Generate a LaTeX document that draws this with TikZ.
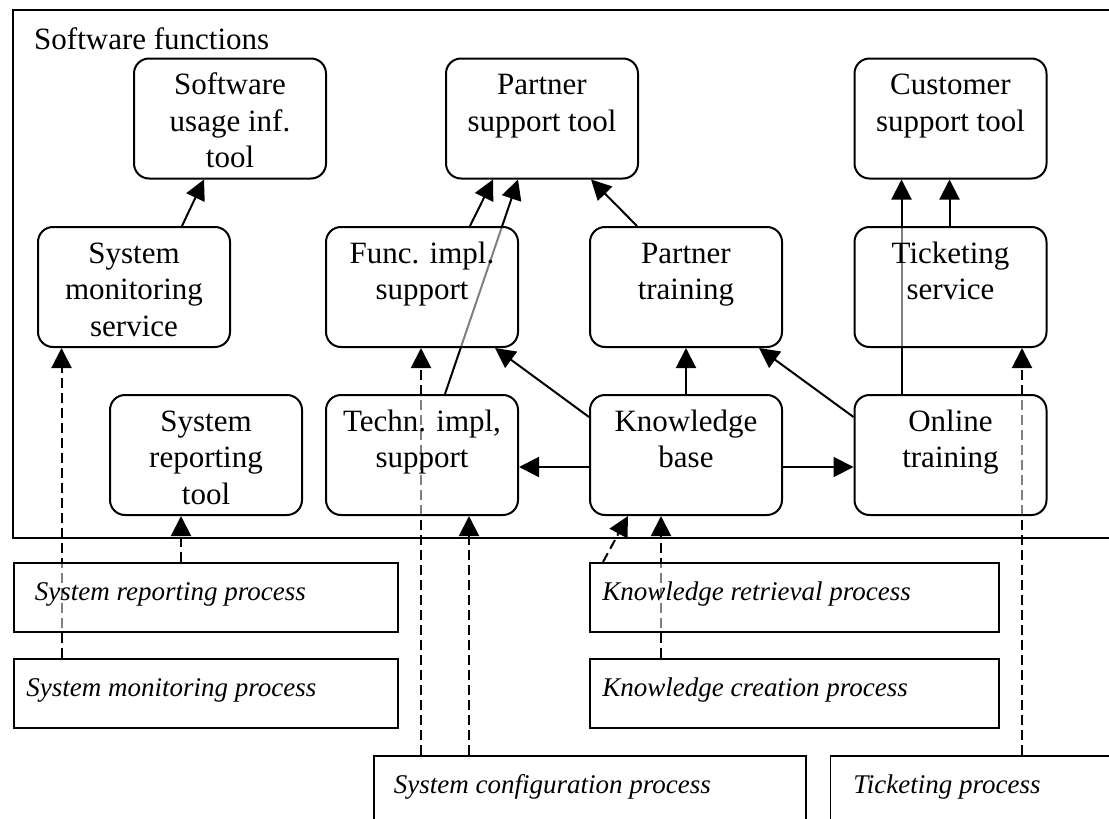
\documentclass[tikz,border=0pt]{standalone}
\usepackage{fontspec}
\setmainfont{Liberation Serif}
\usetikzlibrary{arrows.meta}
\pgfdeclarelayer{bg}
\pgfsetlayers{bg,main}

% text of a rounded function box: centred lines, first baseline 36pt below the top
\newcommand\fnlabel[1]{\parbox[t][120pt][t]{192pt}{\centering\rule{0pt}{36pt}#1\par}}
% text of a process box: one italic line, left inset #3
\newcommand\proclabel[4]{\parbox[t][#2][t]{#1}{\raggedright\hspace*{#3}\rule{0pt}{37.5pt}#4\par}}

\tikzset{
  fnbox/.style={draw, line width=2pt, rounded corners=15pt, fill=white,
    fill opacity=0.5, text opacity=1, inner sep=0pt, anchor=north west,
    font=\fontsize{31}{36.7}\selectfont},
  procbox/.style={draw, line width=1.6pt, fill=white, fill opacity=0.5,
    text opacity=1, inner sep=0pt, anchor=north west,
    font=\fontsize{27}{32}\selectfont\itshape},
  flow/.style={line width=2pt, -{Triangle[length=20pt 0 0,width=20pt 0 0]}},
  feed/.style={flow, dash pattern=on 10pt off 5pt},
}

\begin{document}
\begin{tikzpicture}[x=1pt,y=-1pt]
\clip (0,0) rectangle (1109,819);

% container of the software functions
\draw[line width=2pt] (1130,10) -- (13,10) -- (13,538) -- (1130,538);
\node[anchor=base west, inner sep=0pt, font=\fontsize{31}{36.7}\selectfont]
  (title) at (34,49.5) {Software functions};

% function boxes
\node[fnbox] (su)  at (133,57.5)   {\fnlabel{Software\\usage inf.\\tool}};
\node[fnbox] (ps)  at (445,57.5)   {\fnlabel{Partner\\support tool}};
\node[fnbox] (cs)  at (853.5,57.5) {\fnlabel{Customer\\support tool}};
\node[fnbox] (sms) at (37,226)     {\fnlabel{System\\monitoring\\service}};
\node[fnbox] (fis) at (325,226)    {\fnlabel{Func. impl.\\support}};
\node[fnbox] (pt)  at (589,226)    {\fnlabel{Partner\\training}};
\node[fnbox] (ts)  at (853.5,226)  {\fnlabel{Ticketing\\service}};
\node[fnbox] (srt) at (109,394)    {\fnlabel{System\\reporting\\tool}};
\node[fnbox] (tis) at (325,394)    {\fnlabel{Techn. impl,\\support}};
\node[fnbox] (kb)  at (589,394)    {\fnlabel{Knowledge\\base}};
\node[fnbox] (ot)  at (853.5,394)  {\fnlabel{Online\\training}};

% process boxes
\node[procbox] (srp) at (13,562)    {\proclabel{384pt}{69pt}{21pt}{System reporting process}};
\node[procbox] (smp) at (13,658)    {\proclabel{384pt}{69pt}{12.5pt}{System monitoring process}};
\node[procbox] (scp) at (373,755)   {\proclabel{432pt}{90pt}{20pt}{System configuration process}};
\node[procbox] (krp) at (589,562)   {\proclabel{409pt}{69pt}{12.5pt}{Knowledge retrieval process}};
\node[procbox] (kcp) at (589,658)   {\proclabel{409pt}{69pt}{12.5pt}{Knowledge creation process}};
\node[procbox] (tp)  at (829.5,755) {\proclabel{300pt}{90pt}{23pt}{Ticketing process}};

\begin{pgfonlayer}{bg}
\fill[white] (0,0) rectangle (1109,819);
% dependencies between functions
\draw[flow] ([xshift=145pt]sms.north west) -- ([xshift=71pt]su.south west);
\draw[flow] ([xshift=145pt]fis.north west) -- ([xshift=48pt]ps.south west);
\draw[flow] ([xshift=120pt]tis.north west) -- ([xshift=73pt]ps.south west);
\draw[flow] ([xshift=48pt]pt.north west)   -- ([xshift=146pt]ps.south west);
\draw[flow] ([xshift=96pt]ts.north west)   -- ([xshift=96pt]cs.south west);
\draw[flow] ([xshift=48pt]ot.north west)   -- ([xshift=48pt]cs.south west);
\draw[flow] ([yshift=-23pt]kb.north west)  -- ([xshift=170pt]fis.south west);
\draw[flow] ([xshift=97pt]kb.north west)   -- ([xshift=97pt]pt.south west);
\draw[flow] ([yshift=-23pt]ot.north west)  -- ([xshift=170pt]pt.south west);
\draw[flow] ([yshift=-12pt]kb.west) -- ([yshift=-12pt]tis.east);
\draw[flow] ([yshift=-12pt]kb.east) -- ([yshift=-12pt]ot.west);

% processes feeding the functions
\draw[feed] ([xshift=48.5pt]smp.north west) -- ([xshift=24.5pt]sms.south west);
\draw[feed] ([xshift=168pt]srp.north west)  -- ([xshift=72pt]srt.south west);
\draw[feed] ([xshift=48pt]scp.north west)   -- ([xshift=96pt]fis.south west);
\draw[feed] ([xshift=96pt]scp.north west)   -- ([xshift=144pt]tis.south west);
\draw[feed] ([xshift=14pt]krp.north west)   -- ([xshift=39pt]kb.south west);
\draw[feed] ([xshift=72pt]kcp.north west)   -- ([xshift=72pt]kb.south west);
\draw[feed] ([xshift=192.5pt]tp.north west) -- ([xshift=168.5pt]ts.south west);
\end{pgfonlayer}
\end{tikzpicture}
\end{document}
